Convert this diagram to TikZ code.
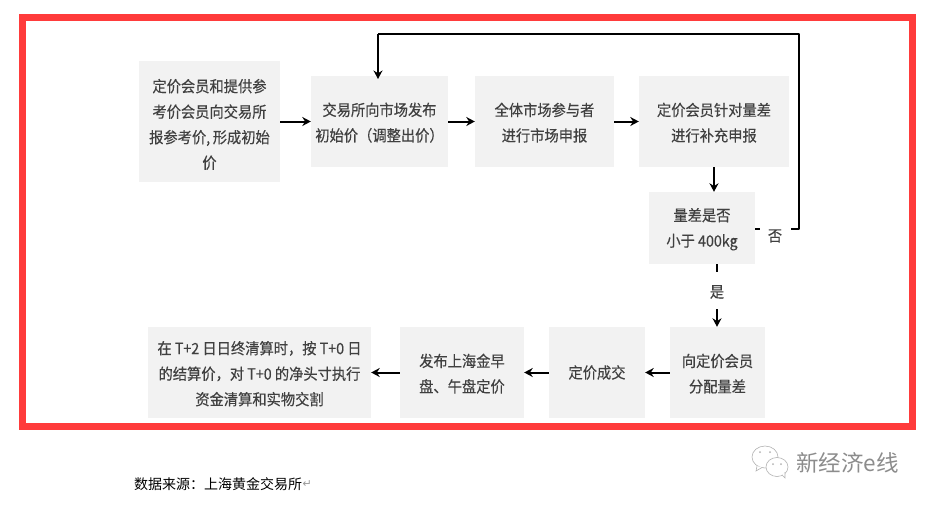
\documentclass[tikz,border=0pt]{standalone}
\usepackage{fontspec}
\setmainfont{Noto Sans CJK SC}
\newfontfamily\boxfont[FakeStretch=0.92,FakeBold=0.4]{Noto Sans CJK SC}
\newfontfamily\symfont{DejaVu Sans}
\usetikzlibrary{arrows.meta}
\definecolor{framered}{HTML}{FF3B3B}
\definecolor{boxgray}{HTML}{F2F2F2}
\definecolor{textgray}{HTML}{404040}
\newcommand{\topgap}{\rule{0pt}{15.5pt}}
\tikzset{
  flowbox/.style={fill=boxgray,text=textgray,align=center,inner sep=0pt,font=\boxfont\fontsize{15.5}{25.5}\selectfont},
  flowline/.style={line width=2pt,-{Stealth[length=8.5pt,width=9pt]}},
  loopline/.style={line width=1.6pt,line join=round},
  marklabel/.style={text=textgray,inner sep=1pt,font=\boxfont\fontsize{15.5}{17}\selectfont}
}

\begin{document}
\begin{tikzpicture}[x=1pt,y=-1pt]
  \useasboundingbox (0,0) rectangle (930,504);
  \draw[framered,line width=7pt] (22.5,17.5) rectangle (912.5,426.5);

  \node[flowbox,minimum width=141pt,minimum height=121pt] (quote) at (209.5,121.5) {\rule{0pt}{19pt}定价会员和提供参\\考价会员向交易所\\报参考价,\,形成初始\\价};
  \node[flowbox,minimum width=137pt,minimum height=91pt] (publish) at (379.5,121.5) {\topgap 交易所向市场发布\\初始价（调整出价）};
  \node[flowbox,minimum width=139pt,minimum height=91pt] (bid) at (544.5,121.5) {\topgap 全体市场参与者\\进行市场申报};
  \node[flowbox,minimum width=150pt,minimum height=91pt] (supply) at (714,121.5) {\topgap 定价会员针对量差\\进行补充申报};
  \node[flowbox,minimum width=106pt,minimum height=72pt] (check) at (702,228) {\topgap 量差是否\\小于 400kg};
  \node[flowbox,minimum width=95pt,minimum height=91pt] (assign) at (717.5,372.5) {\topgap 向定价会员\\分配量差};
  \node[flowbox,minimum width=96pt,minimum height=91pt] (deal) at (597,372.5) {定价成交};
  \node[flowbox,minimum width=124pt,minimum height=91pt] (fix) at (462,372.5) {\topgap 发布上海金早\\盘、午盘定价};
  \node[flowbox,minimum width=223pt,minimum height=91pt] (settle) at (259.5,372.5) {\topgap 在 T+2 日日终清算时，按 T+0 日\\的结算价，对 T+0 的净头寸执行\\资金清算和实物交割};

  \node[marklabel] (no) at (775,236) {否};
  \node[marklabel] (yes) at (717,292) {是};
  \coordinate (corner) at (799,229);
  \coordinate (top) at (799,34);
  \coordinate (drop) at (378,79);
  \coordinate (noleft) at (760,229);
  \coordinate (noright) at (791,229);
  \coordinate (yesup) at (717,272);
  \coordinate (yesdown) at (717,309);

  \draw[flowline] (quote) -- (publish);
  \draw[flowline] (publish) -- (bid);
  \draw[flowline] (bid) -- (supply);
  \draw[flowline] (supply) -- (supply.south |- check.north);
  \draw[line width=1.6pt] (check.south -| yes) -- (yesup);
  \draw[flowline] (yesdown) -- (assign.north -| yes);
  \draw[flowline] (assign) -- (deal);
  \draw[flowline] (deal) -- (fix);
  \draw[flowline] (fix) -- (settle);

  \draw[loopline] (check.east |- corner) -- (noleft);
  \draw[loopline] (noright) -- (corner) -- (top) -- (top -| drop);
  \draw[flowline] (top -| drop) -- (drop);

  \node[anchor=west,inner sep=0pt,font=\fontsize{14}{16}\selectfont] (source) at (134,484) {数据来源：上海黄金交易所};
  \node[anchor=west,inner sep=0pt,text=gray!80,font=\symfont\fontsize{11}{12}\selectfont] (ret) at (source.east) {↵};

  \draw[gray!60,fill=white,line width=0.6pt] (765,457) ellipse (13 and 11);
  \draw[gray!60,fill=white,line width=0.6pt] (757,466) -- (756,471) -- (762,467.5);
  \draw[gray!60,fill=white,line width=0.6pt] (777,467) ellipse (11 and 9.5);
  \draw[gray!60,fill=white,line width=0.6pt] (782,475) -- (785,478) -- (785,472);
  \fill[gray!60] (760,452) circle (1) (770,452) circle (1) (773,464) circle (1) (781,464) circle (1);
  \node[anchor=west,inner sep=0pt,text=gray!90,font=\fontsize{22.5}{24}\selectfont] (mark) at (796,463) {新经济e线};
\end{tikzpicture}
\end{document}
